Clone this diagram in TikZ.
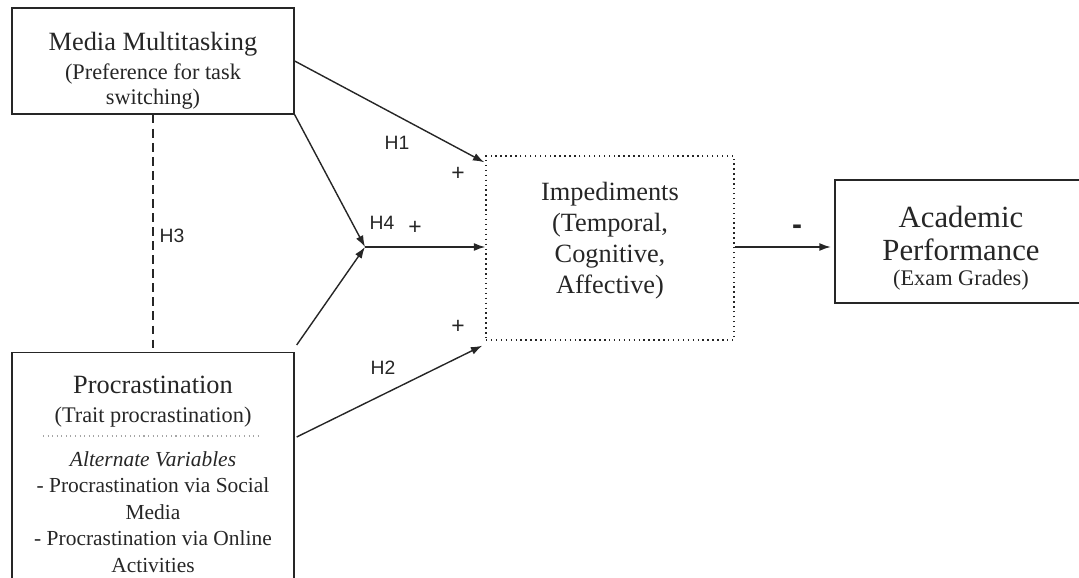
\documentclass[tikz,border=0pt]{standalone}
\usepackage{fontspec}
\setmainfont{Liberation Serif}
\newfontfamily\hypfont{Liberation Sans}
\definecolor{inkgray}{HTML}{262626}
\usetikzlibrary{arrows.meta, positioning, calc}

\begin{document}
\begin{tikzpicture}[x=0.02cm, y=-0.02cm, color=inkgray,
    varbox/.style={draw, line width=0.8pt, inner sep=0pt},
    boxtext/.style={align=center, inner sep=0pt},
    link/.style={-{Latex[length=6.5pt,width=4.5pt]}, line width=0.8pt},
    hyp/.style={font=\hypfont\fontsize{11}{12}\selectfont},
    sign/.style={font=\hypfont\fontsize{13}{14}\selectfont}]
  \useasboundingbox (0,0) rectangle (1079,578);
  \clip (0,0) rectangle (1079,578);
  % Media multitasking box
  \node[varbox, minimum width=5.64cm, minimum height=2.12cm] (mm) at (153,61) {};
  \node[boxtext, font=\fontsize{12.7}{14.5}\selectfont] (mmtext) at (153,71)
    {{\fontsize{15}{17}\selectfont Media Multitasking}\\[2pt]
     (Preference for task\\ switching)};
  % Procrastination box (runs off the bottom)
  \node[varbox, minimum width=5.64cm, minimum height=5cm, anchor=north] (proc) at (153,352) {};
  \node[boxtext, font=\fontsize{12.7}{14.5}\selectfont] (proctitle) at (153,402)
    {{\fontsize{15}{17}\selectfont Procrastination}\\[2pt]
     (Trait procrastination)};
  \draw[gray!70, dotted, line width=0.6pt] (43,436) -- (262,436);
  \node[boxtext, font=\fontsize{12.2}{15.1}\selectfont] (procalt) at (153,512)
    {{\itshape Alternate Variables}\\
     - Procrastination via Social\\ Media\\
     - Procrastination via Online\\ Activities};
  % Impediments (dotted)
  \node[varbox, dotted, minimum width=4.96cm, minimum height=3.68cm] (imp) at (610,248) {};
  \node[boxtext, font=\fontsize{15}{17.6}\selectfont] (imptext) at (610,241)
    {Impediments\\ (Temporal,\\ Cognitive,\\ Affective)};
  % Academic performance (runs off the right side)
  \node[varbox, minimum width=5.04cm, minimum height=2.46cm] (ap) at (961,241.5) {};
  \node[boxtext, font=\fontsize{17.5}{18.7}\selectfont] (aptext) at (961,248)
    {Academic\\ Performance\\[-4.5pt]
     {\fontsize{12.7}{13}\selectfont (Exam Grades)}};
  % Paths
  \coordinate (join) at (365,247);
  \draw[link] (mm.east) -- ($(imp.north west)+(-1,7)$);
  \draw[link] (mm.south east) -- (join);
  \draw[link] ($(proc.north east)+(2,-7)$) -- (join);
  \draw[link] (join) -- (join -| imp.west);
  \draw[link] ($(proc.north east)+(2,85)$) -- ($(imp.south west)+(-3,5)$);
  \draw[link, shorten >=2pt] (join -| imp.east) -- (join -| ap.west);
  \draw[line width=0.8pt, dash pattern=on 5pt off 3pt] (mm.south) -- (proc.north);
  % Hypothesis labels
  \node[hyp] (h1) at (397,143) {H1};
  \node[hyp] (h2) at (383,368) {H2};
  \node[hyp] (h3) at (172,236) {H3};
  \node[hyp] (h4) at (382,223) {H4};
  \node[sign] (s1) at (458,174) {+};
  \node[sign] (s4) at (415,228) {+};
  \node[sign] (s2) at (458,327) {+};
  \node[sign, font=\hypfont\bfseries\fontsize{17}{18}\selectfont] (s5) at (797,230) {-};
\end{tikzpicture}
\end{document}
